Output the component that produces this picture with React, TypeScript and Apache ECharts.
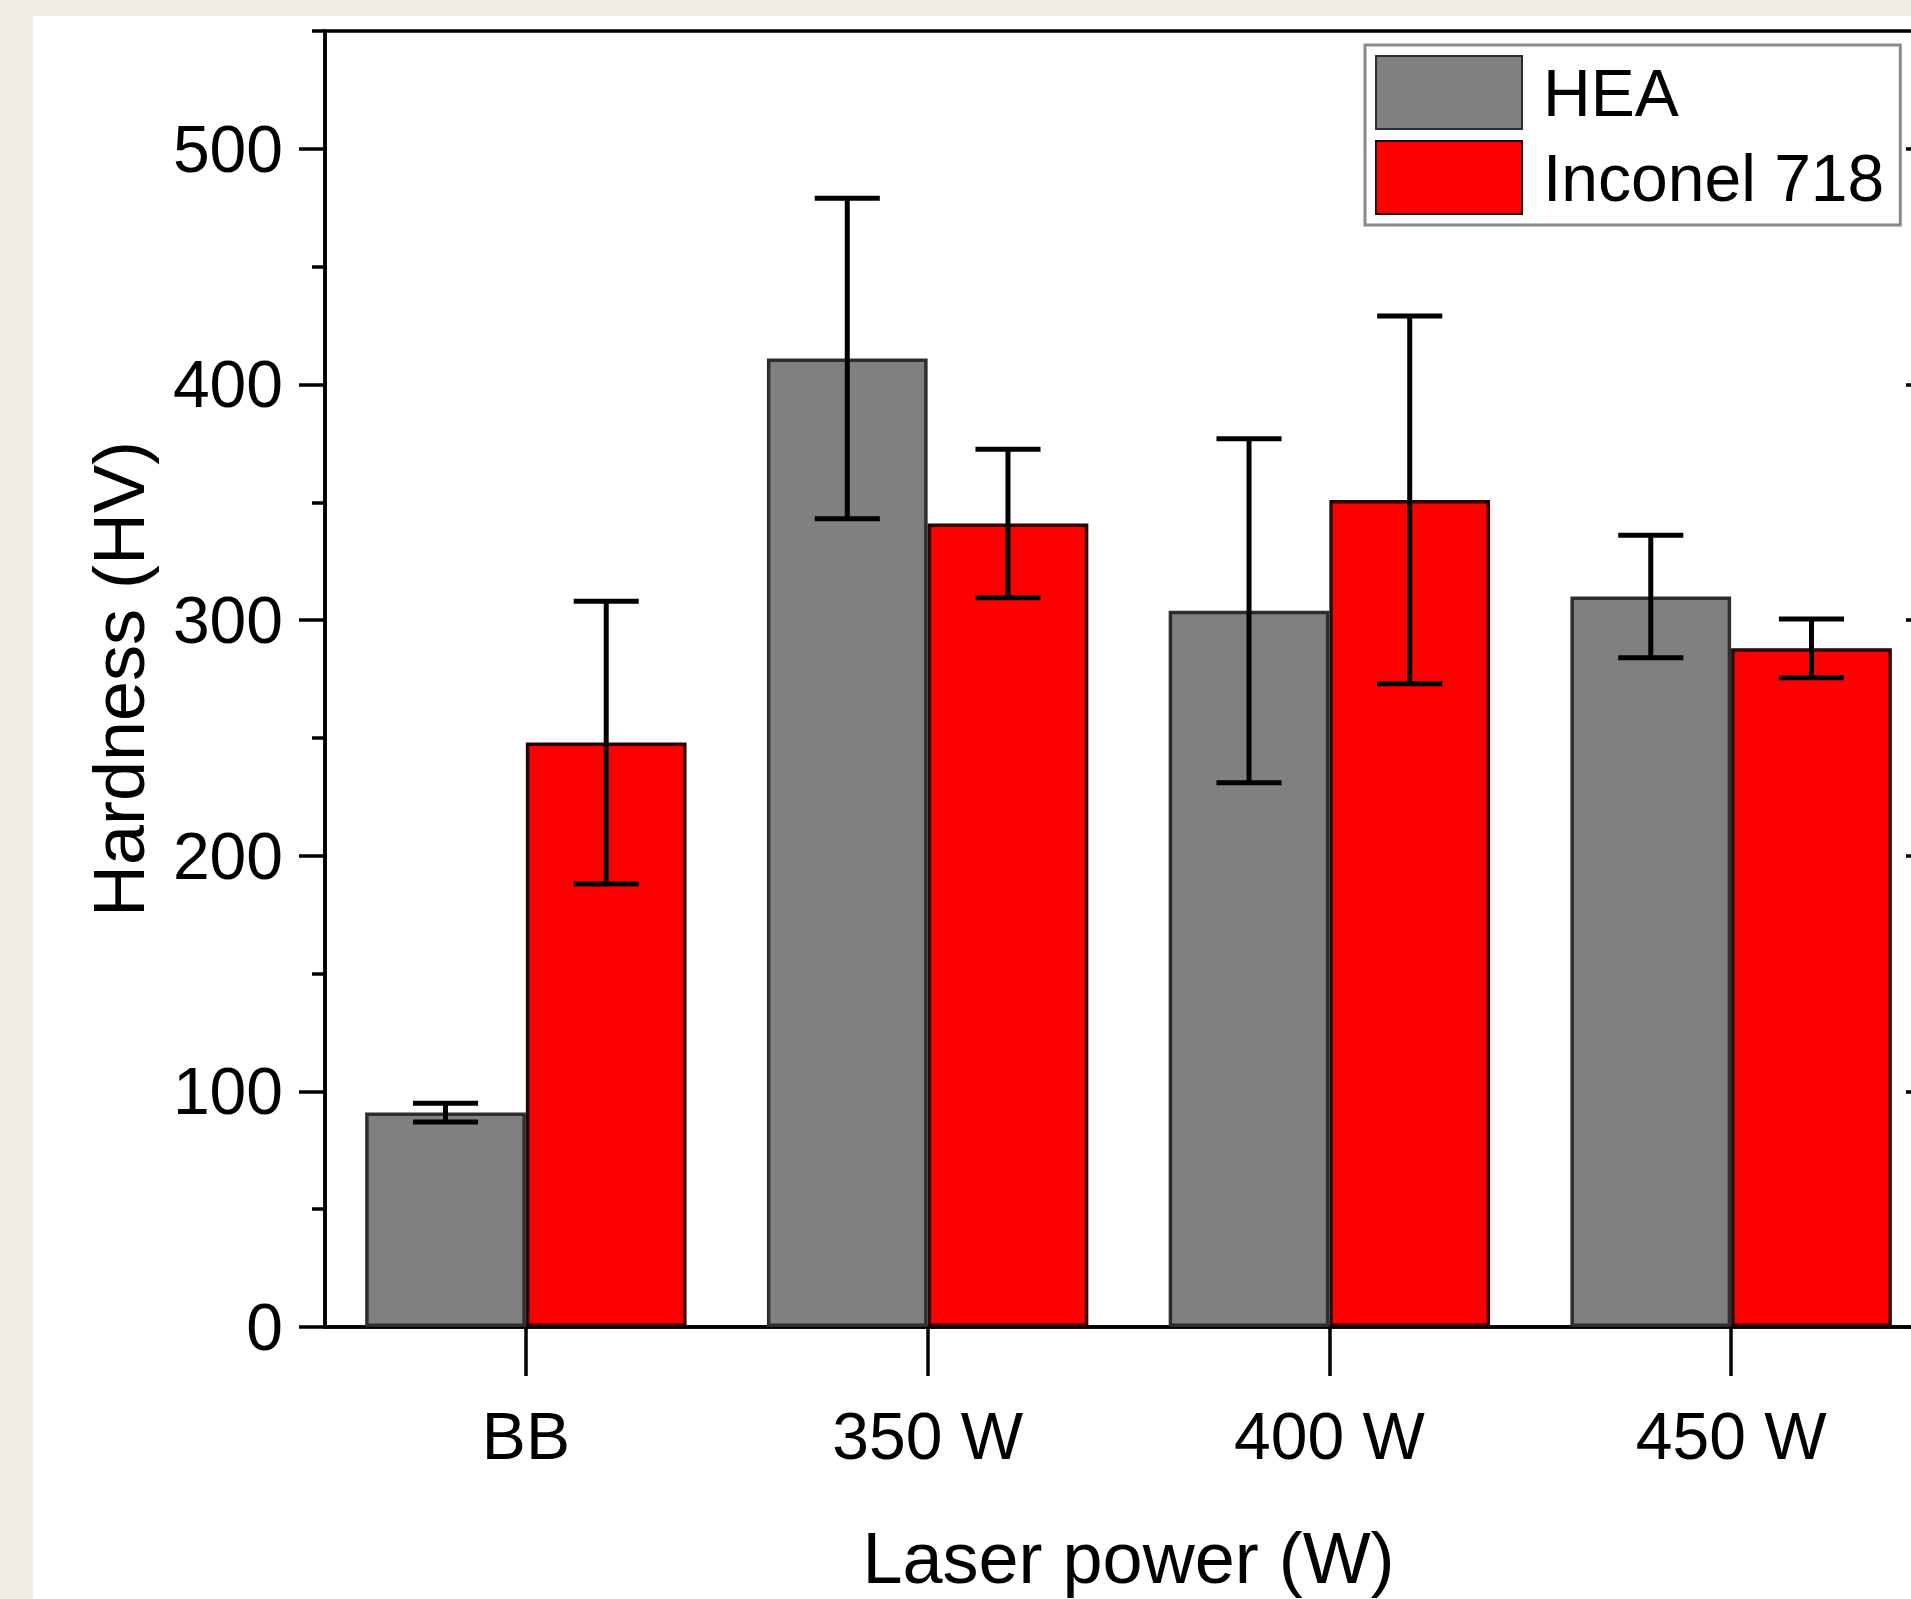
import React, { useEffect, useRef } from 'react';
import * as echarts from 'echarts';

const categories = ['BB', '350 W', '400 W', '450 W'];
const seriesNames = ['HEA', 'Inconel 718'];
const heaHardness = [91, 411, 304, 310];
const heaError = [4, 68, 73, 26];
const inconelHardness = [248, 341, 351, 288];
const inconelError = [60, 31.5, 78, 12.5];
const yMajorTicks = [0, 100, 200, 300, 400, 500];
const yMinorTicks = [50, 150, 250, 350, 450, 550];
const yMin = 0;
const yMax = 550;

const FONT = 'Liberation Sans';

function errData(means: number[], errs: number[]) {
  return means.map((m, i) => [i, m - errs[i], m + errs[i]]);
}

function errSeries(name: string, means: number[], errs: number[], side: number) {
  return {
    type: 'custom',
    name,
    data: errData(means, errs),
    z: 5,
    silent: true,
    renderItem: (params: any, api: any) => {
      const band = api.size([1, 0])[0];
      const lo = api.coord([api.value(0), api.value(1)]);
      const hi = api.coord([api.value(0), api.value(2)]);
      const cx = lo[0] + side * band * 0.2;
      const half = band * 0.081;
      const style = { stroke: '#000', lineWidth: 5 };
      return {
        type: 'group',
        children: [
          { type: 'line', shape: { x1: cx, y1: lo[1], x2: cx, y2: hi[1] }, style },
          { type: 'line', shape: { x1: cx - half, y1: hi[1], x2: cx + half, y2: hi[1] }, style },
          { type: 'line', shape: { x1: cx - half, y1: lo[1], x2: cx + half, y2: lo[1] }, style },
        ],
      };
    },
  };
}

export default function App() {
  const ref = useRef<HTMLDivElement>(null);
  useEffect(() => {
    const chart = echarts.init(ref.current!, null, { renderer: 'svg' });
    const axisLineStyle = { color: '#000', width: 3.5 };
    chart.setOption({
      animation: false,
      backgroundColor: '#ffffff',
      grid: {
        left: 292,
        top: 15,
        right: -21,
        bottom: 272,
        show: true,
        borderColor: '#000',
        borderWidth: 3.5,
        backgroundColor: 'transparent',
        containLabel: false,
        outerBoundsMode: 'none',
      },
      legend: {
        orient: 'vertical',
        left: 1332,
        top: 29,
        data: seriesNames,
        itemWidth: 146,
        itemHeight: 73,
        itemGap: 10,
        padding: [10, 16, 10, 10],
        borderColor: '#8a8a8a',
        borderWidth: 3,
        backgroundColor: '#fff',
        icon: 'rect',
        selectedMode: false,
        textStyle: {
          fontSize: 66,
          fontFamily: FONT,
          color: '#000',
          padding: [0, 0, 0, 16],
          lineHeight: 73,
        },
      },
      xAxis: {
        type: 'category',
        data: categories,
        axisLine: { show: true, lineStyle: axisLineStyle },
        axisTick: { show: true, alignWithLabel: true, length: 49, lineStyle: axisLineStyle },
        axisLabel: { fontSize: 66, fontFamily: FONT, color: '#000', margin: 76 },
        splitLine: { show: false },
        name: 'Laser power (W)',
        nameLocation: 'middle',
        nameGap: 195,
        nameTextStyle: { fontSize: 72, fontFamily: FONT, color: '#000' },
      },
      yAxis: [
        {
          type: 'value',
          min: yMin,
          max: yMax,
          position: 'left',
          axisLine: { show: true, lineStyle: axisLineStyle },
          axisTick: { show: true, length: 26, customValues: yMajorTicks, lineStyle: axisLineStyle },
          axisLabel: {
            customValues: yMajorTicks,
            fontSize: 66,
            fontFamily: FONT,
            color: '#000',
            margin: 42,
            padding: [0, 0, 10, 0],
          },
          splitLine: { show: false },
          name: 'Hardness (HV)',
          nameLocation: 'middle',
          nameGap: 170,
          nameTextStyle: { fontSize: 72, fontFamily: FONT, color: '#000' },
        },
        {
          type: 'value',
          min: yMin,
          max: yMax,
          position: 'left',
          axisLine: { show: false },
          axisTick: { show: true, length: 13, customValues: yMinorTicks, lineStyle: axisLineStyle },
          axisLabel: { show: false },
          splitLine: { show: false },
        },
        {
          type: 'value',
          min: yMin,
          max: yMax,
          position: 'right',
          axisLine: { show: false },
          axisTick: { show: true, inside: true, length: 26, customValues: yMajorTicks, lineStyle: axisLineStyle },
          axisLabel: { show: false },
          splitLine: { show: false },
        },
      ],
      series: [
        {
          type: 'bar',
          name: seriesNames[0],
          data: heaHardness,
          barGap: '0%',
          barCategoryGap: '20%',
          itemStyle: { color: '#808080', borderColor: '#2e2e2e', borderWidth: 3.5 },
        },
        {
          type: 'bar',
          name: seriesNames[1],
          data: inconelHardness,
          barGap: '0%',
          barCategoryGap: '20%',
          itemStyle: { color: '#ff0000', borderColor: '#2a0000', borderWidth: 3.5 },
        },
        errSeries('HEA error', heaHardness, heaError, -1),
        errSeries('Inconel 718 error', inconelHardness, inconelError, 1),
      ],
    });
    return () => chart.dispose();
  }, []);

  return (
    <div style={{ position: 'fixed', left: 0, top: 0, width: 1911, height: 1599, background: '#f0ede6', overflow: 'hidden' }}>
      <div ref={ref} style={{ position: 'absolute', left: 33, top: 16, width: 1878, height: 1583, background: '#fff' }} />
    </div>
  );
}
